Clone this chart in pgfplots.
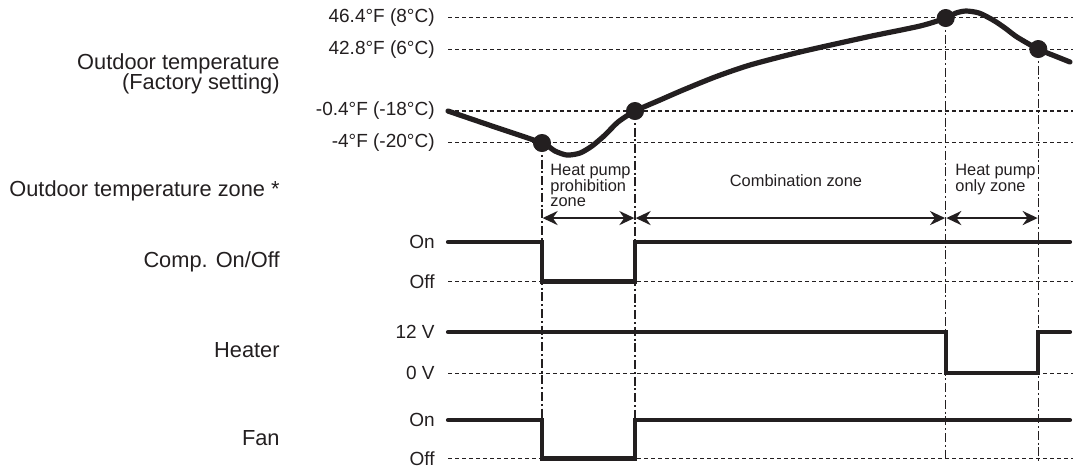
\documentclass[border=0pt]{standalone}
\usepackage{pgfplots}
\pgfplotsset{compat=1.18}
\usepackage{fontspec}
\setmainfont{Liberation Sans}
\usetikzlibrary{arrows.meta}
\definecolor{ink}{HTML}{231F20}
\begin{document}
\begin{tikzpicture}[
  gl/.style={ink, line width=0.75pt, dash pattern=on 2pt off 1.5pt},
  vl/.style={ink, line width=0.75pt, dash pattern=on 4.5pt off 1.4pt on 1pt off 1.4pt},
  sig/.style={ink, line width=2.1pt, line cap=round, line join=miter},
  zar/.style={ink, line width=1.3pt, {Stealth[length=7.5pt,width=7pt]}-{Stealth[length=7.5pt,width=7pt]}, shorten <=0.3pt, shorten >=0.3pt},
  lvl/.style={anchor=east, text=ink, font=\fontsize{9.5}{11}\selectfont, inner sep=0pt},
  big/.style={anchor=east, text=ink, font=\fontsize{10.9}{10.3}\selectfont, inner sep=0pt, align=right},
  zt/.style={text=ink, font=\fontsize{8.2}{7.7}\selectfont, inner sep=0pt},
]
\begin{axis}[
  scale only axis, width=536.5pt, height=237pt,
  xmin=0, xmax=1073, ymin=0, ymax=474, y dir=reverse,
  hide axis, clip=false,
]
% level guide lines
\addplot[gl] coordinates {(448,17.3)(1073,17.3)};
\addplot[gl] coordinates {(448,49.3)(1073,49.3)};
\addplot[gl] coordinates {(448,111)(1073,111)};
\addplot[gl] coordinates {(448,142.7)(1073,142.7)};
\addplot[gl] coordinates {(448,281.5)(1073,281.5)};
\addplot[gl] coordinates {(448,373.3)(1073,373.3)};
\addplot[gl] coordinates {(448,458.3)(1073,458.3)};
% vertical dash-dot lines
\addplot[vl] coordinates {(542,143)(542,461)};
\addplot[vl] coordinates {(635,111)(635,461)};
\addplot[vl] coordinates {(945.7,18)(945.7,461)};
\addplot[vl] coordinates {(1038.3,49)(1038.3,461)};
% outdoor temperature curve
\addplot[ink, line width=2.6pt, line cap=round, smooth, tension=0.45] coordinates {
 (448,111) (495,127) (542,143) (555,151) (567,155) (580,153) (592,146)
 (605,135) (618,122) (635,111) (660,100) (683,90) (715,77) (750,65)
 (800,52) (867,37) (920,26) (946,18) (956,13) (966,11) (979,13)
 (993,20) (1005,28) (1017,37) (1038,49) (1055,56) (1070,62)};
\addplot[only marks, mark=*, mark size=4.3pt, ink, mark options={fill=ink, draw=ink}]
 coordinates {(542,143) (635,111) (945.7,18) (1038.3,49)};
% zone arrows
\addplot[zar] coordinates {(542,218)(635,218)};
\addplot[zar] coordinates {(635,218)(945.7,218)};
\addplot[zar] coordinates {(945.7,218)(1038.3,218)};
% Comp. On/Off
\addplot[sig] coordinates {(448,242)(542,242)(542,281.5)(635,281.5)(635,242)(1070,242)};
% Heater
\addplot[sig] coordinates {(448,332)(945.7,332)(945.7,373.3)(1038.3,373.3)(1038.3,332)(1070,332)};
% Fan
\addplot[sig] coordinates {(448,420)(542,420)(542,458.3)(635,458.3)(635,420)(1070,420)};

% level labels
\node[lvl] at (axis cs:435,17.3) {46.4°F (8°C)};
\node[lvl] at (axis cs:435,49.3) {42.8°F (6°C)};
\node[lvl] at (axis cs:435,111) {-0.4°F (-18°C)};
\node[lvl] at (axis cs:435,142.7) {-4°F (-20°C)};
\node[lvl] at (axis cs:435,242) {On};
\node[lvl] at (axis cs:435,281.5) {Off};
\node[lvl] at (axis cs:435,332) {12 V};
\node[lvl] at (axis cs:435,373.3) {0 V};
\node[lvl] at (axis cs:435,420) {On};
\node[lvl] at (axis cs:435,458.3) {Off};
% row labels
\node[big] at (axis cs:280,74) {Outdoor temperature\\(Factory setting)};
\node[big] at (axis cs:280,191) {Outdoor temperature zone *};
\node[big] at (axis cs:280,262) {Comp. On/Off};
\node[big] at (axis cs:280,350) {Heater};
\node[big] at (axis cs:280,438) {Fan};
% zone labels
\node[zt, anchor=north west, align=left] at (axis cs:550,164) {Heat pump\\prohibition\\zone};
\node[zt, anchor=center] at (axis cs:796,181) {Combination zone};
\node[zt, anchor=north west, align=left] at (axis cs:955,164) {Heat pump\\only zone};

\coordinate (bl) at (axis cs:0,474);
\coordinate (tr) at (axis cs:1073,0);
\end{axis}
\pgfresetboundingbox
\path[use as bounding box] (bl) rectangle (tr);
\end{tikzpicture}
\end{document}
